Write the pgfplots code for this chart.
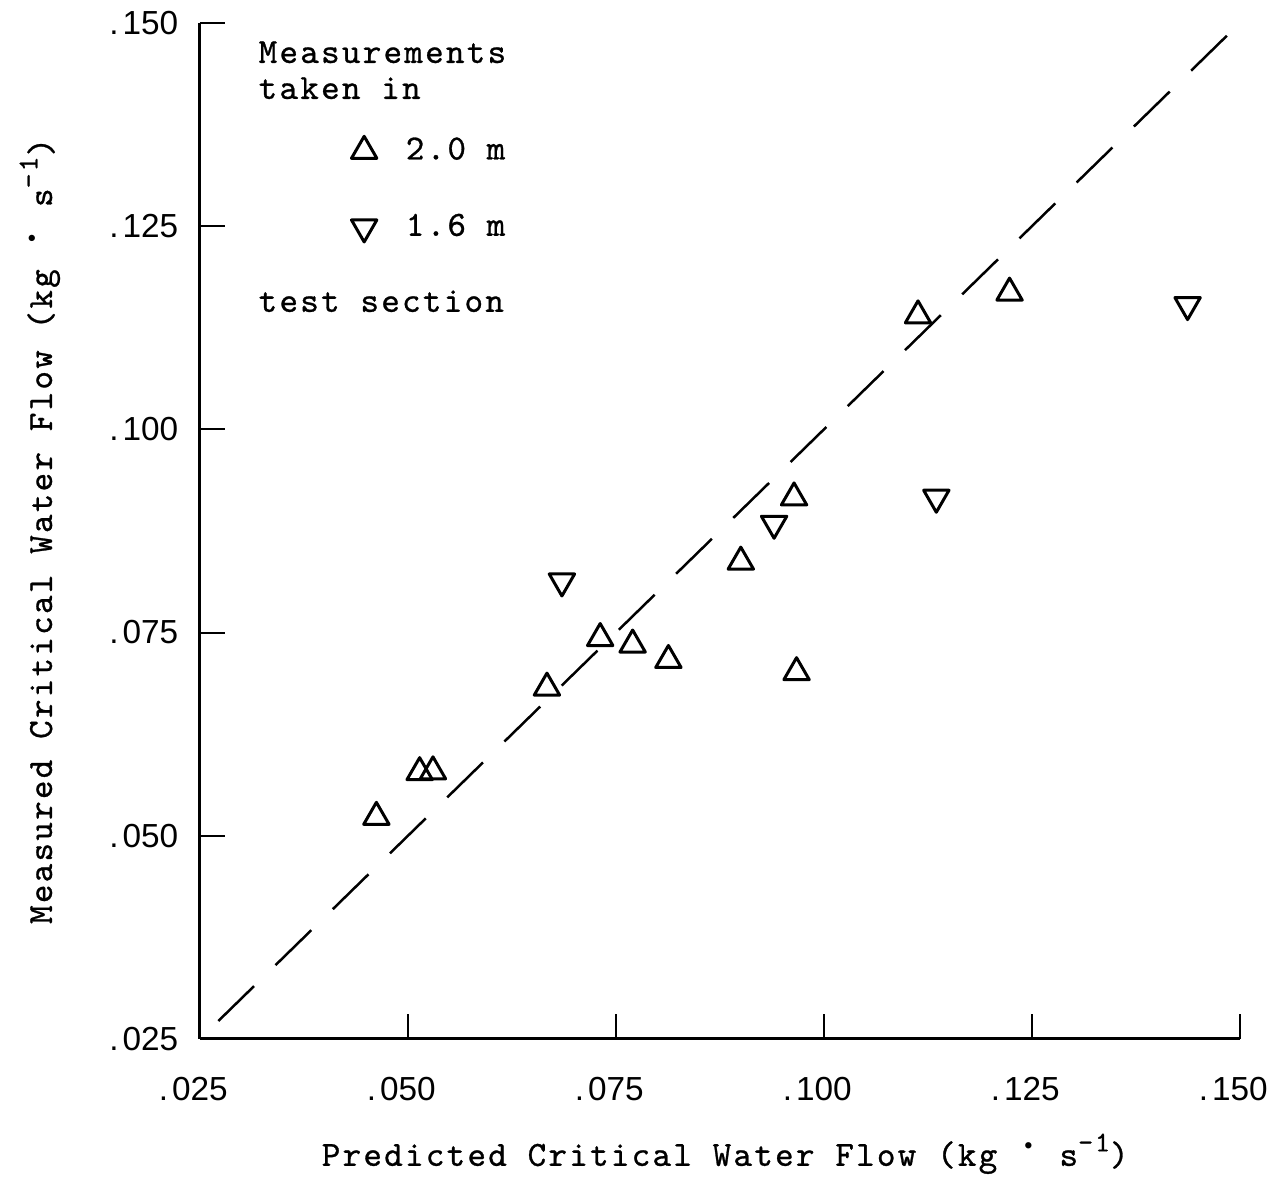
\documentclass[border=0pt]{standalone}
\usepackage{pgfplots}
\pgfplotsset{compat=1.18}
\usepackage{fontspec}
\newfontfamily\ticksfont{Liberation Sans}
\newfontfamily\twface[LetterSpace=6.4, FakeBold=0.8]{lmmono10-regular.otf}

% typewriter face for labels and key
\newcommand\tw{\twface\fontsize{10.6}{12}\selectfont}
% raised dot used in the unit "kg . s^-1", one character cell wide
\newcommand\bul{\makebox[6.2pt]{\raisebox{0.8ex}{\ticksfont\fontsize{7}{7}\selectfont\char"2022}}}
% raised exponent
\newcommand\expo[1]{\raisebox{0.95ex}{\fontsize{8.6}{9}\selectfont#1}}
% tick number with a spaced leading point
\newcommand\tk[1]{.\kern1.2pt#1}

\begin{document}
\begin{tikzpicture}
\begin{axis}[
  scale only axis,
  width=312pt, height=304.8pt,
  xmin=0.025, xmax=0.150, ymin=0.025, ymax=0.150,
  axis x line*=bottom, axis y line*=left,
  axis line style={-, line width=0.9pt},
  every outer x axis line/.append style={-},
  every outer y axis line/.append style={-},
  clip=false,
  xtick={0.025,0.050,0.075,0.100,0.125,0.150},
  ytick={0.025,0.050,0.075,0.100,0.125,0.150},
  xticklabels={\tk{025},\tk{050},\tk{075},\tk{100},\tk{125},\tk{150}},
  yticklabels={\tk{025},\tk{050},\tk{075},\tk{100},\tk{125},\tk{150}},
  tick align=inside,
  major tick length=7.5pt,
  tick style={line width=0.6pt, black},
  ticklabel style={font=\ticksfont\fontsize{10}{12}\selectfont},
  xticklabel style={yshift=-8pt, xshift=-2pt},
  yticklabel style={xshift=-3pt},
  xlabel={Predicted Critical Water Flow (kg \bul\ s\expo{-1})},
  ylabel={Measured Critical Water Flow (kg \bul\ s\expo{-1})},
  label style={font=\tw},
  xlabel style={at={(axis description cs:0.505,-0.113)}, anchor=center},
  ylabel style={at={(axis description cs:-0.154,0.5)}, anchor=center},
  legend style={at={(rel axis cs:0.1335,0.901)}, anchor=north west,
    draw=none, fill=none, font=\tw, row sep=10.8pt},
  legend cell align=left,
  legend image code/.code={%
    \draw[#1] plot coordinates {(0cm,0cm)};
    \path[draw=none] (-4.4pt,0pt) -- (10.5pt,0pt);},
]

% equality line: measured = predicted
\addplot[black, line width=0.75pt, dash pattern=on 15pt off 9pt, forget plot]
  coordinates {(0.0272,0.0272) (0.150,0.150)};

% 2.0 m test section
\addplot[only marks, mark=triangle, mark size=4.4pt,
  mark options={black, solid, line width=0.9pt, line join=round}]
  coordinates {
  (0.0462,0.0523) (0.0514,0.0578) (0.0530,0.0579) (0.0667,0.0682)
  (0.0731,0.0743) (0.0770,0.0735) (0.0813,0.0716) (0.0900,0.0837)
  (0.0964,0.0916) (0.0967,0.0701) (0.1113,0.1140) (0.1223,0.1168)
  };
\addlegendentry{2.0 m}

% 1.6 m test section
\addplot[only marks, mark=triangle, mark size=4.4pt,
  mark options={black, solid, line width=0.9pt, line join=round, rotate=180}]
  coordinates {
  (0.0685,0.0813) (0.0940,0.0884) (0.1135,0.0916) (0.1437,0.1153)
  };
\addlegendentry{1.6 m}

\node[anchor=base west, font=\tw, inner sep=0pt]
  at (rel axis cs:0.0558,0.9606) {Measurements};
\node[anchor=base west, font=\tw, inner sep=0pt]
  at (rel axis cs:0.0558,0.9252) {taken in};
\node[anchor=base west, font=\tw, inner sep=0pt]
  at (rel axis cs:0.0558,0.7156) {test section};

% page extent
\path (rel axis cs:-0.1923,-0.1378) rectangle (rel axis cs:1.0423,1.0187);
\end{axis}
\end{tikzpicture}
\end{document}
